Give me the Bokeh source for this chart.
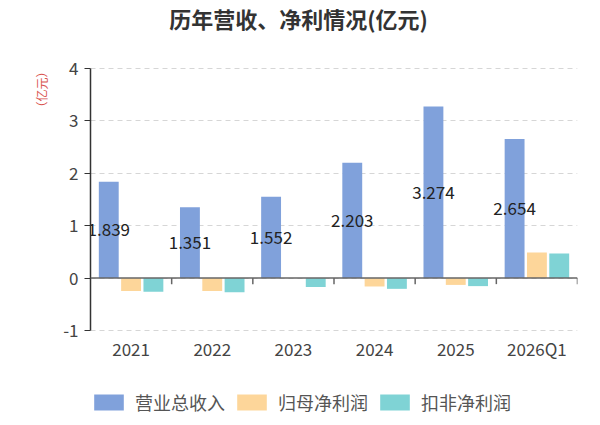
from bokeh.embed import file_html
from bokeh.core.properties import value
from bokeh.models import (ColumnDataSource, FixedTicker, Label, Legend,
                          LegendItem, LinearAxis, Range1d, Span)
from bokeh.plotting import figure
from bokeh.resources import INLINE
from bokeh.transform import dodge

# Annual revenue and profit figures, in 100 million yuan
years = ["2021", "2022", "2023", "2024", "2025", "2026Q1"]
revenue = [1.839, 1.351, 1.552, 2.203, 3.274, 2.654]
net_profit = [-0.245, -0.245, None, -0.16, -0.13, 0.49]
net_profit_deducted = [-0.262, -0.268, -0.17, -0.205, -0.153, 0.47]
y_ticks = [-1, 0, 1, 2, 3, 4]
y_tick_labels = ["-1", "0", "1", "2", "3", "4"]
series_names = ["营业总收入", "归母净利润", "扣非净利润"]
title_text = "历年营收、净利情况(亿元)"
unit_text = "（亿元）"

FONT = "Noto Sans CJK SC"
BLUE, ORANGE, TEAL = "#80a1db", "#fdd69a", "#7fd3d5"

# The value axis covers -1..4; the plot area runs on above and below it so the
# heading and the legend can sit inside it.
Y_MIN, Y_MAX = y_ticks[0], y_ticks[-1]
PX_PER_UNIT = 52.4
HEAD_ROOM = 68 / PX_PER_UNIT
FOOT_ROOM = 95 / PX_PER_UNIT

src = ColumnDataSource(dict(
    year=years,
    revenue=revenue,
    net=[float("nan") if v is None else v for v in net_profit],
    ded=net_profit_deducted,
    mid=[v / 2 for v in revenue],
    label=[f"{v:.3f}" for v in revenue],
))

p = figure(
    x_range=years, y_range=Range1d(Y_MIN - FOOT_ROOM, Y_MAX + HEAD_ROOM),
    width=600, height=425,
    output_backend="svg", toolbar_location=None,
    min_border_left=90, min_border_right=23,
    min_border_top=0, min_border_bottom=0,
    background_fill_color="white", border_fill_color="white",
)
p.outline_line_color = None

# Heading
p.add_layout(Label(
    x=2.5625, y=Y_MAX + 51 / PX_PER_UNIT, text=title_text,
    text_align="center", text_baseline="middle",
    text_font=FONT, text_font_size="22px", text_font_style="bold",
    text_color="#333333",
))

# Bars
bar_w = 0.245
r_rev = p.vbar(x=dodge("year", -0.275, range=p.x_range), top="revenue", bottom=0,
               width=bar_w, source=src, fill_color=BLUE, line_color=None)
r_net = p.vbar(x=dodge("year", 0.0, range=p.x_range), top="net", bottom=0,
               width=bar_w, source=src, fill_color=ORANGE, line_color=None)
r_ded = p.vbar(x=dodge("year", 0.275, range=p.x_range), top="ded", bottom=0,
               width=bar_w, source=src, fill_color=TEAL, line_color=None)

# Value labels in the middle of the revenue bars
p.text(x=dodge("year", -0.275, range=p.x_range), y="mid", text="label", source=src,
       text_align="center", text_baseline="middle",
       text_font=value(FONT), text_font_size="17px", text_color="#222222")

# Zero line acting as the category axis, with ticks between the groups
p.add_layout(Span(location=0, dimension="width", line_color="#666666", line_width=1.5))
p.segment(x0=dodge("year", 0.5, range=p.x_range), x1=dodge("year", 0.5, range=p.x_range),
          y0=0, y1=-0.115, source=src, line_color="#666666", line_width=1.5)

# Y axis
yax = p.yaxis[0]
yax.bounds = (Y_MIN, Y_MAX)
yax.ticker = FixedTicker(ticks=y_ticks)
yax.major_label_overrides = dict(zip(y_ticks, y_tick_labels))
yax.axis_line_color = "#333333"
yax.axis_line_width = 1.5
yax.major_tick_line_color = "#333333"
yax.major_tick_out = 6
yax.major_tick_in = 0
yax.minor_tick_line_color = None
yax.major_label_standoff = 6
yax.major_label_text_font = FONT
yax.major_label_text_font_size = "17px"
yax.major_label_text_color = "#444444"

# Unit of the value axis, written vertically near its top
unit_at = Y_MAX - 21 / PX_PER_UNIT
unit_axis = LinearAxis(
    ticker=FixedTicker(ticks=[unit_at]),
    major_label_overrides={unit_at: unit_text},
    major_label_orientation="vertical",
    major_label_standoff=5,
    major_label_text_font=FONT, major_label_text_font_size="12px",
    major_label_text_color="#d9534f",
    axis_line_color=None, major_tick_line_color=None, minor_tick_line_color=None,
)
p.add_layout(unit_axis, "left")

# X axis labels under the -1 gridline
xax = p.xaxis[0]
xax.fixed_location = Y_MIN
xax.axis_line_color = None
xax.major_tick_line_color = None
xax.major_tick_out = 0
xax.minor_tick_line_color = None
xax.major_label_standoff = 5
xax.major_label_text_font = FONT
xax.major_label_text_font_size = "17px"
xax.major_label_text_color = "#444444"

# Grid
p.xgrid.grid_line_color = None
p.ygrid.grid_line_color = "#d6d6d6"
p.ygrid.grid_line_dash = "5 4"
p.ygrid.grid_line_width = 1

# Legend along the bottom
legend = Legend(
    items=[LegendItem(label=n, renderers=[r]) for n, r in
           zip(series_names, [r_rev, r_net, r_ded])],
    orientation="horizontal",
    location=(0, 10),
    glyph_width=37, glyph_height=20,
    label_standoff=8, spacing=8,
    padding=0, margin=0,
    border_line_color=None, background_fill_alpha=0,
    label_text_font=FONT, label_text_font_size="18px", label_text_color="#555555",
)
p.add_layout(legend, "center")

open("out.html", "w").write(file_html(p, INLINE))
